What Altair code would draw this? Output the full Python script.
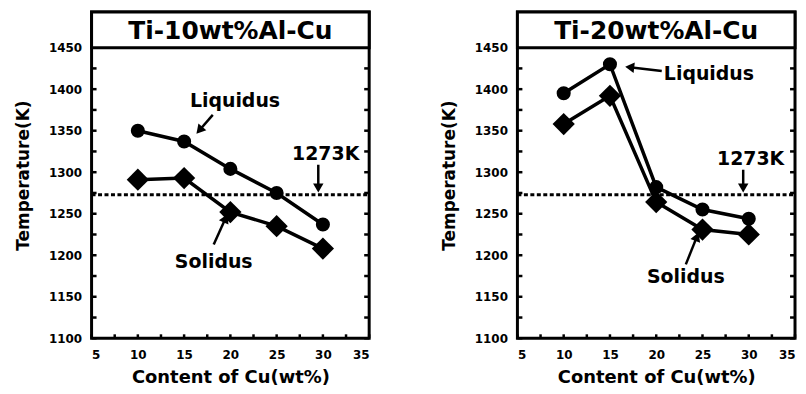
import math
import altair as alt
import pandas as pd

# ---- data ----
cu = [10, 15, 20, 25, 30]
liq_10 = [1350, 1337, 1304, 1275, 1237]
sol_10 = [1291, 1293, 1252, 1235, 1208]
liq_20 = [1395, 1430, 1282, 1255, 1244]
sol_20 = [1358, 1392, 1264, 1231, 1225]
titles = ["Ti-10wt%Al-Cu", "Ti-20wt%Al-Cu"]
ref_temp = 1273

label_names = ["Liquidus", "Solidus", "1273K"]
label_x_10 = [20.5, 18.2, 30.3]
label_y_10 = [1386, 1192, 1322]
label_x_20 = [25.7, 23.2, 30.2]
label_y_20 = [1418, 1174, 1316]

# arrows: tail x, tail y, tip x, tip y
arrow_tail_x_10 = [18.1, 18.2, 29.5]
arrow_tail_y_10 = [1369, 1213, 1309]
arrow_tip_x_10 = [16.3, 19.7, 29.5]
arrow_tip_y_10 = [1346, 1250, 1275]
arrow_tail_x_20 = [20.6, 23.2, 29.4]
arrow_tail_y_20 = [1422, 1189, 1303]
arrow_tip_x_20 = [16.6, 24.6, 29.4]
arrow_tip_y_20 = [1427, 1228, 1275]

x_ticks = [5, 10, 15, 20, 25, 30, 35]
y_ticks = [1100, 1150, 1200, 1250, 1300, 1350, 1400, 1450]
x_minor = [5 + 2.5 * i for i in range(13)]
y_minor = [1100 + 25 * i for i in range(15)]

X_DOM = [5, 35]
Y_DOM = [1100, 1493]
TITLE_BOTTOM = 1450
W, H = 279, 328
kx = W / (X_DOM[1] - X_DOM[0])
ky = H / (Y_DOM[1] - Y_DOM[0])
FONT = "DejaVu Sans"

xs = alt.Scale(domain=X_DOM, nice=False, zero=False)
ys = alt.Scale(domain=Y_DOM, nice=False, zero=False)

axis_common = dict(grid=False, ticks=False, domain=False, format="d",
                   labelFont=FONT, labelFontWeight="bold", labelFontSize=12,
                   labelColor="black", titleFont=FONT, titleFontWeight="bold",
                   titleColor="black")
x_axis = alt.Axis(values=x_ticks, title="Content of Cu(wt%)", titleFontSize=18,
                  labelPadding=11, titlePadding=8, **axis_common)
y_axis = alt.Axis(values=y_ticks, title="Temperature(K)", titleFontSize=17,
                  labelPadding=10, titlePadding=16, **axis_common)


def X(f):
    return alt.X(f, scale=xs, axis=x_axis)


def Y(f):
    return alt.Y(f, scale=ys, axis=y_axis)


def panel(title, liq, sol, lx, ly, tx, ty, hx, hy):
    df = pd.DataFrame({
        "x": cu * 2,
        "y": liq + sol,
        "s": ["Liquidus"] * len(cu) + ["Solidus"] * len(cu),
    })
    base = alt.Chart(df)
    lines = base.mark_line(color="black", strokeWidth=3.5).encode(x=X("x:Q"), y=Y("y:Q"), detail="s:N")
    circ = base.transform_filter(alt.datum.s == "Liquidus").mark_point(
        shape="circle", filled=True, color="black", size=200, opacity=1).encode(x=X("x:Q"), y=Y("y:Q"))
    diam = base.transform_filter(alt.datum.s == "Solidus").mark_point(
        shape="diamond", filled=True, color="black", size=500, opacity=1).encode(x=X("x:Q"), y=Y("y:Q"))

    dash = alt.Chart(pd.DataFrame({"y": [ref_temp], "x": [X_DOM[0]], "x1": [X_DOM[1]]})).mark_rule(
        color="black", strokeWidth=3, strokeDash=[4, 2.5]).encode(
        x=X("x:Q"), x2="x1:Q", y=Y("y:Q"))

    # inward tick marks
    tl = pd.DataFrame({"y": y_minor, "x": X_DOM[0], "b": X_DOM[0] + 5 / kx})
    tr = pd.DataFrame({"y": y_minor, "x": X_DOM[1] - 5 / kx, "b": X_DOM[1]})
    tb = pd.DataFrame({"x": x_minor, "y": Y_DOM[0], "b": Y_DOM[0] + 4 / ky})
    tick_l = alt.Chart(tl).mark_rule(color="black", strokeWidth=2.5).encode(x=X("x:Q"), x2="b:Q", y=Y("y:Q"))
    tick_r = alt.Chart(tr).mark_rule(color="black", strokeWidth=2.5).encode(x=X("x:Q"), x2="b:Q", y=Y("y:Q"))
    tick_b = alt.Chart(tb).mark_rule(color="black", strokeWidth=2.5).encode(y=Y("y:Q"), y2="b:Q", x=X("x:Q"))

    # title box
    box = alt.Chart(pd.DataFrame({"x": [X_DOM[0]], "x1": [X_DOM[1]],
                                  "y": [TITLE_BOTTOM], "y1": [Y_DOM[1]]})).mark_rect(
        fill="white", stroke="black", strokeWidth=3).encode(
        x=X("x:Q"), x2="x1:Q", y=Y("y:Q"), y2="y1:Q")
    ttl = alt.Chart(pd.DataFrame({"x": [(X_DOM[0] + X_DOM[1]) / 2],
                                  "y": [(TITLE_BOTTOM + Y_DOM[1]) / 2], "t": [title]})).mark_text(
        font=FONT, fontWeight="bold", fontSize=25, color="black", baseline="middle", dy=1).encode(
        x=X("x:Q"), y=Y("y:Q"), text="t:N")

    labels = alt.Chart(pd.DataFrame({"x": lx, "y": ly, "t": label_names})).mark_text(
        font=FONT, fontWeight="bold", fontSize=19, color="black", baseline="middle").encode(
        x=X("x:Q"), y=Y("y:Q"), text="t:N")

    # arrows
    rows = []
    for x0, y0, x1, y1 in zip(tx, ty, hx, hy):
        dxp = (x1 - x0) * kx
        dyp = -(y1 - y0) * ky
        L = math.hypot(dxp, dyp)
        ux, uy = dxp / L, dyp / L
        back = 5
        cx = x1 - ux * back / kx
        cy = y1 + uy * back / ky
        ang = math.degrees(math.atan2(dxp, -dyp)) % 360
        rows.append({"x": x0, "y": y0, "cx": cx, "cy": cy, "ang": ang})
    adf = pd.DataFrame(rows)
    shafts = alt.Chart(adf).mark_rule(color="black", strokeWidth=2.5).encode(
        x=X("x:Q"), y=Y("y:Q"), x2="cx:Q", y2="cy:Q")
    heads = alt.Chart(adf).mark_point(shape="triangle-up", filled=True, color="black",
                                      size=110, opacity=1).encode(
        x=X("cx:Q"), y=Y("cy:Q"), angle=alt.Angle("ang:Q", scale=None))

    return alt.layer(lines, tick_l, tick_r, tick_b, dash, circ, diam, box, ttl,
                     labels, shafts, heads).properties(width=W, height=H)


left = panel(titles[0], liq_10, sol_10, label_x_10, label_y_10,
             arrow_tail_x_10, arrow_tail_y_10, arrow_tip_x_10, arrow_tip_y_10)
right = panel(titles[1], liq_20, sol_20, label_x_20, label_y_20,
              arrow_tail_x_20, arrow_tail_y_20, arrow_tip_x_20, arrow_tip_y_20)

chart = alt.hconcat(left, right, spacing=67).properties(
    padding={"left": 5, "top": 0, "right": 0, "bottom": 0},
    background="white",
).configure_view(stroke="black", strokeWidth=3)

chart.save("out.html", embed_options={"renderer": "svg", "actions": False})
